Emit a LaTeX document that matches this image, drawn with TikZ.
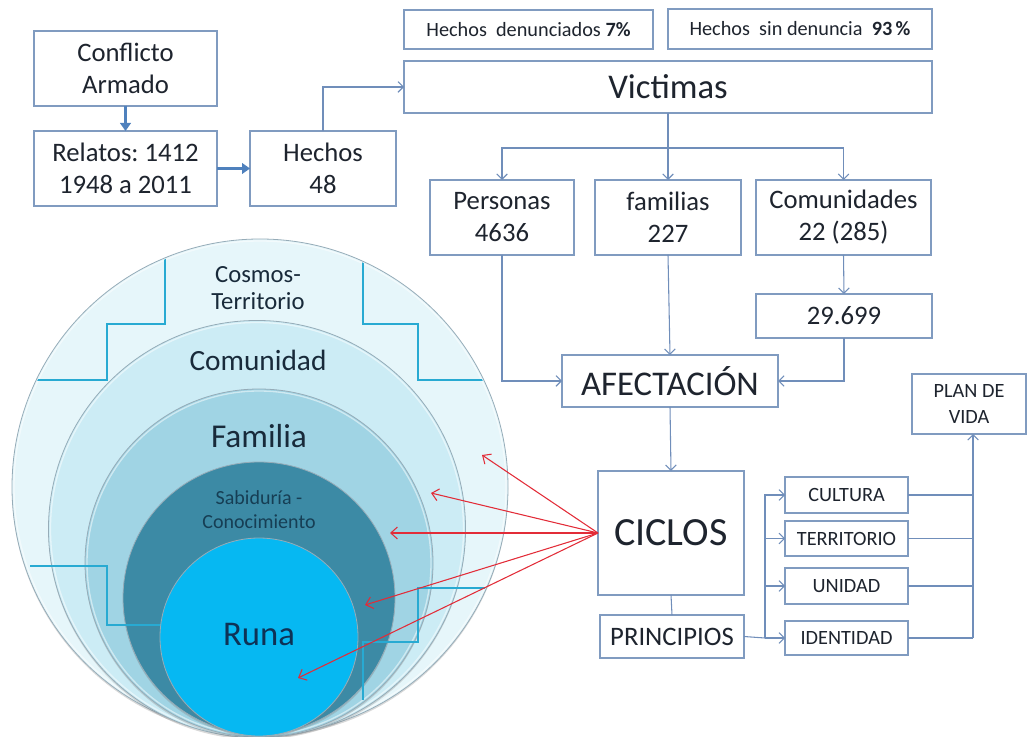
\documentclass[tikz,border=0pt]{standalone}
\usepackage{fontspec}
\setmainfont{Carlito}
\usepackage{xcolor}
\usepackage{tikz}
\usetikzlibrary{arrows.meta, positioning, shadows}

\definecolor{boxline}{RGB}{128,155,192}
\definecolor{linkcol}{RGB}{112,142,186}
\definecolor{boldcol}{RGB}{79,129,189}
\definecolor{hitred}{RGB}{226,44,56}
\definecolor{ink}{RGB}{30,36,46}
\definecolor{ringink}{RGB}{24,42,58}
\definecolor{sabink}{RGB}{22,62,84}
\definecolor{runaink}{RGB}{14,50,86}
\definecolor{cosmos}{RGB}{230,246,250}
\definecolor{comun}{RGB}{204,236,245}
\definecolor{famil}{RGB}{160,212,228}
\definecolor{sabid}{RGB}{60,138,165}
\definecolor{runa}{RGB}{6,184,242}
\definecolor{rim}{RGB}{150,172,184}
\definecolor{stepline}{RGB}{40,170,210}

\begin{document}
\begin{tikzpicture}[
    x=0.75pt, y=-0.75pt,
    box/.style={rectangle, draw=boxline, fill=white, line width=0.8pt, inner sep=0pt, outer sep=0pt, align=center, text=ink, font=\fontsize{20}{24}\selectfont},
    smallbox/.style={box, font=\fontsize{15.2}{20}\selectfont},
    bigbox/.style={box, font=\fontsize{26}{30}\selectfont},
    ring/.style={draw=rim, line width=0.6pt, drop shadow={shadow xshift=0pt, shadow yshift=-1.5pt, opacity=0.3}},
    gloss/.style={draw=white, opacity=0.5, line width=1pt},
    ringtext/.style={align=center, text=ringink},
    link/.style={->, >={Straight Barb[length=4pt, width=8pt]}, draw=linkcol, line width=0.8pt},
    plain/.style={draw=linkcol, line width=0.8pt},
    bold/.style={-{Triangle[length=6pt, width=8pt]}, draw=boldcol, line width=2.2pt},
    hit/.style={->, >={Straight Barb[length=5pt, width=9pt]}, draw=hitred, line width=0.8pt},
    steps/.style={draw=stepline, line width=0.8pt}
]
\useasboundingbox (0,0) rectangle (1027,737);

% Circles of the territory
\path[ring, fill=cosmos] (260,487) circle[radius=186pt];
\draw[gloss] (260,487) circle[radius=184.5pt];
\path[ring, fill=comun] (257,529) circle[radius=156.4pt];
\draw[gloss] (257,529) circle[radius=154.9pt];
\path[ring, fill=famil] (259,563) circle[radius=130.5pt];
\draw[gloss] (259,563) circle[radius=129pt];
\path[ring, fill=sabid] (259,598) circle[radius=102pt];

% Stepped frame
\begin{scope}
\clip (260,487) circle[radius=185pt];
\draw[steps] (165,230) -- (165,324) -- (107,324) -- (107,380) -- (30,380);
\draw[steps] (363,230) -- (363,324) -- (418,324) -- (418,380) -- (490,380);
\draw[steps] (30,566) -- (107,566) -- (107,625) -- (165,625);
\draw[steps] (490,588) -- (418,588) -- (418,642) -- (363,642) -- (363,700);
\end{scope}

\path[ring, fill=runa] (259,637) circle[radius=74.25pt];

\node[ringtext, font=\fontsize{18.5}{20.5}\selectfont] (tcosmos) at (258,288) {Cosmos-\\Territorio};
\node[ringtext, font=\fontsize{22}{26}\selectfont] (tcomun) at (258,360) {Comunidad};
\node[ringtext, font=\fontsize{25}{29}\selectfont] (tfamil) at (259,436) {Familia};
\node[ringtext, text=sabink, font=\fontsize{15}{18}\selectfont] (tsabid) at (259,510) {Sabiduría -\\Conocimiento};
\node[ringtext, text=runaink, font=\fontsize{26}{30}\selectfont] (truna) at (259,635) {Runa};

% Story boxes
\node[box, minimum width=137.25pt, minimum height=56.25pt] (conflicto) at (125.5,68.5) {Conflicto\\Armado};
\node[box, minimum width=137.25pt, minimum height=56.25pt, below=18.75pt of conflicto] (relatos) {Relatos:\ 1412\\1948 a 2011};
\node[box, minimum width=109.5pt, minimum height=56.25pt, right=24.75pt of relatos] (hechos) {Hechos\\48};

% Victims
\node[smallbox, minimum width=186.75pt, minimum height=29.25pt] (denun) at (528.5,29.5) {Hechos\ \ denunciados \textbf{7\%}};
\node[smallbox, minimum width=198pt, minimum height=30pt] (sinden) at (800,29) {Hechos\ \ sin denuncia\ \ \textbf{93\,\%}};
\node[bigbox, minimum width=396pt, minimum height=39pt] (victimas) at (668,87) {Victimas};
\node[box, minimum width=108pt, minimum height=56.25pt] (personas) at (502,217.5) {Personas\\4636};
\node[box, minimum width=109.5pt, minimum height=56.25pt] (familias) at (668,217.5) {familias\\227};
\node[box, minimum width=131.25pt, minimum height=56.25pt] (comunidades) at (843.5,217.5) {Comunidades\\22 (285)};
\node[box, minimum width=132pt, minimum height=33pt] (cifra) at (844,316) {29.699};
\node[bigbox, minimum width=162pt, minimum height=39pt] (afectacion) at (670,381) {AFECTACIÓN};

% Cycles and principles
\node[box, font=\fontsize{30}{34}\selectfont, minimum width=109.5pt, minimum height=93pt] (ciclos) at (671,533) {CICLOS};
\node[box, minimum width=108pt, minimum height=32.25pt] (principios) at (672,636.5) {PRINCIPIOS};
\node[smallbox, minimum width=92.25pt, minimum height=27pt] (cultura) at (846.5,495) {CULTURA};
\node[smallbox, minimum width=92.25pt, minimum height=26.25pt] (territorio) at (846.5,538.5) {TERRITORIO};
\node[smallbox, minimum width=92.25pt, minimum height=27pt] (unidad) at (846.5,586) {UNIDAD};
\node[smallbox, minimum width=92.25pt, minimum height=25.5pt] (identidad) at (846.5,638) {IDENTIDAD};
\node[smallbox, minimum width=85.5pt, minimum height=45pt] (plan) at (969,404) {PLAN DE\\VIDA};

\coordinate (vsplit) at (668,148);
\coordinate (pbus) at (765,638);
\coordinate (rbus) at (973,638);

% Connectors
\draw[bold] (conflicto) -- (relatos);
\draw[bold] (relatos) -- (hechos);
\draw[link] (hechos.north) |- (victimas.west);
\draw[plain] (victimas.south) -- (vsplit);
\draw[link] (vsplit) -| (personas.north);
\draw[link] (vsplit) -- (familias.north);
\draw[link] (vsplit) -| (comunidades.north);
\draw[link] (personas.south) |- (afectacion.west);
\draw[link] (familias.south) -- (afectacion.north);
\draw[link] (comunidades.south) -- (cifra.north);
\draw[link] (cifra.south) |- (afectacion.east);
\draw[link] (afectacion.south) -- (ciclos.north);
\draw[plain] (ciclos.south) -- (principios.north);

\draw[plain] (principios.east) -- (pbus);
\foreach \p in {cultura, territorio, unidad, identidad}
  \draw[link] (pbus) |- (\p.west);
\foreach \p in {cultura, territorio, unidad, identidad}
  \draw[plain] (\p.east) -- (\p.east -| rbus);
\draw[link] (rbus) -- (rbus |- plan.south);

% Red arrows into the circles
\coordinate (t1) at (482,455);
\coordinate (t2) at (431,493);
\coordinate (t3) at (390,533);
\coordinate (t4) at (365,605);
\coordinate (t5) at (298,678);
\foreach \t in {t1, t2, t3, t4, t5}
  \draw[hit] (ciclos.west) -- (\t);

\end{tikzpicture}
\end{document}
